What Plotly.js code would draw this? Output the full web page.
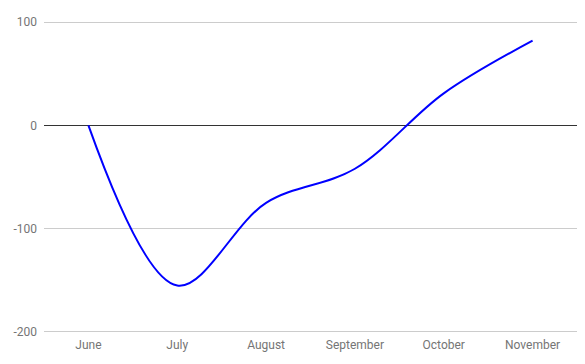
<!DOCTYPE html>
<html>
<head>
<meta charset="utf-8">
<script src="https://cdn.plot.ly/plotly-3.0.1.min.js"></script>
<style>html,body{margin:0;padding:0;background:#fff;}#chart{width:585px;height:364px;}</style>
</head>
<body>
<div id="chart"></div>
<script>
var months = ["June", "July", "August", "September", "October", "November"];
var values = [0, -155, -75, -42, 31, 82];
var yTicks = [-200, -100, 0, 100];

var trace = {
  x: months,
  y: values,
  type: "scatter",
  mode: "lines",
  line: {color: "#0000ff", width: 2, shape: "spline", smoothing: 1},
  hoverinfo: "x+y"
};

var layout = {
  width: 585,
  height: 364,
  margin: {l: 44, r: 8, t: 21, b: 31},
  paper_bgcolor: "#ffffff",
  plot_bgcolor: "#ffffff",
  showlegend: false,
  font: {family: "Roboto, Arial, sans-serif", size: 12, color: "#757575"},
  xaxis: {
    type: "category",
    range: [-0.5, 5.5],
    showgrid: false,
    zeroline: false,
    showline: false,
    ticks: "",
    ticklabelstandoff: 3,
    tickfont: {family: "Roboto, Arial, sans-serif", size: 12, color: "#757575"}
  },
  yaxis: {
    range: [-201, 101],
    tickvals: yTicks,
    ticktext: yTicks.map(String),
    showgrid: true,
    gridcolor: "#cccccc",
    gridwidth: 1,
    zeroline: true,
    zerolinecolor: "#333333",
    zerolinewidth: 1,
    showline: false,
    ticks: "",
    ticklabelstandoff: 6,
    tickfont: {family: "Roboto, Arial, sans-serif", size: 12, color: "#757575"}
  }
};

Plotly.newPlot("chart", [trace], layout, {displayModeBar: false, staticPlot: true});
</script>
</body>
</html>
